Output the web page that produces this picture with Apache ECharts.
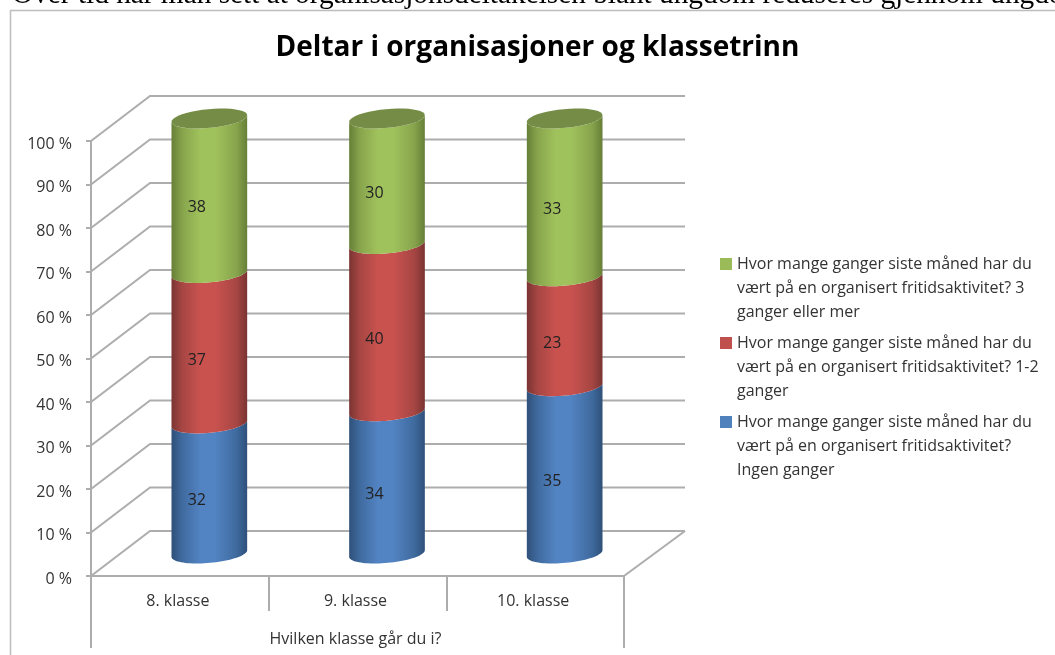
<!DOCTYPE html>
<html>
<head>
<meta charset="utf-8">
<style>html,body{margin:0;padding:0;background:#fff;overflow:hidden}#c{width:1055px;height:655px}</style>
<script src="https://cdn.jsdelivr.net/npm/echarts@6/dist/echarts.min.js"></script>
</head>
<body>
<div id="c"></div>
<script>
const categories = ['8. klasse', '9. klasse', '10. klasse'];
const ingenGanger = [32, 34, 35];
const enToGanger = [37, 40, 23];
const treEllerMer = [38, 30, 33];
const yTicks = [0, 10, 20, 30, 40, 50, 60, 70, 80, 90, 100];
const nameIngen = 'Hvor mange ganger siste måned har du\nvært på en organisert fritidsaktivitet?\nIngen ganger';
const nameEnTo = 'Hvor mange ganger siste måned har du\nvært på en organisert fritidsaktivitet? 1-2\nganger';
const nameTre = 'Hvor mange ganger siste måned har du\nvært på en organisert fritidsaktivitet? 3\nganger eller mer';

const DEPTH_X = 59, DEPTH_Y = -45;
const GREY = '#adadad';
const FONT = '"Open Sans", sans-serif';

const totals = categories.map((_, i) => ingenGanger[i] + enToGanger[i] + treEllerMer[i]);
function bands(values, below) {
  return values.map((v, i) => {
    const start = below.reduce((s, arr) => s + arr[i], 0) / totals[i] * 100;
    return [i, start, start + v / totals[i] * 100, v];
  });
}

const A = 38, B = 9.4, THETA = 5.3 * Math.PI / 180;
function ellipsePoint(cx, cy, t) {
  const c = Math.cos(t) * A, s = Math.sin(t) * B;
  return [cx + c * Math.cos(THETA) + s * Math.sin(THETA),
          cy - c * Math.sin(THETA) + s * Math.cos(THETA)];
}
function arc(cx, cy, from, to) {
  const pts = [];
  for (let k = 0; k <= 40; k++) pts.push(ellipsePoint(cx, cy, from + (to - from) * k / 40));
  return pts;
}
function shade(edgeL, mid, bright, edgeR) {
  return { type: 'linear', x: 0, y: 0, x2: 1, y2: 0, colorStops: [
    { offset: 0, color: edgeL }, { offset: 0.14, color: mid },
    { offset: 0.38, color: bright }, { offset: 0.58, color: bright },
    { offset: 0.86, color: mid }, { offset: 1, color: edgeR } ] };
}
function cylinder(fill, cap) {
  return function (params, api) {
    const lo = api.coord([api.value(0), api.value(1)]);
    const hi = api.coord([api.value(0), api.value(2)]);
    const cx = lo[0] + DEPTH_X / 2, y0 = lo[1] + DEPTH_Y / 2, y1 = hi[1] + DEPTH_Y / 2;
    const points = arc(cx, y0, Math.PI, 0).concat(arc(cx, y1, 0, Math.PI));
    const children = [{ type: 'polygon', shape: { points }, style: { fill } }];
    if (cap) children.push({ type: 'polygon', shape: { points: arc(cx, y1, 0, 2 * Math.PI) },
      style: { fill: cap } });
    children.push({ type: 'text', style: { text: String(api.value(3)), x: cx - 12.5, y: (y0 + y1) / 2 + 12,
      align: 'center', verticalAlign: 'middle', fill: '#222', font: '16px ' + FONT } });
    return { type: 'group', children };
  };
}
function wallLine(params, api) {
  const p = api.coord([0, api.value(0)]);
  const g = params.coordSys;
  return { type: 'polyline', shape: { points: [[g.x, p[1]], [g.x + DEPTH_X, p[1] + DEPTH_Y],
    [g.x + g.width + DEPTH_X + 2, p[1] + DEPTH_Y]] }, style: { stroke: GREY, lineWidth: 2, fill: null } };
}
function floorLine(params, api) {
  const p = api.coord([0, 0]);
  const g = params.coordSys;
  const x2 = g.x + g.width;
  return { type: 'group', children: [
    { type: 'polyline', shape: { points: [[x2, p[1]], [x2 + DEPTH_X + 2, p[1] + DEPTH_Y]] }, style: { stroke: GREY, lineWidth: 2, fill: null } },
    { type: 'line', shape: { x1: g.x, y1: p[1], x2: g.x, y2: p[1] + 72 }, style: { stroke: GREY, lineWidth: 2 } },
    { type: 'line', shape: { x1: x2, y1: p[1], x2: x2, y2: p[1] + 72 }, style: { stroke: GREY, lineWidth: 2 } }
  ] };
}

const chart = echarts.init(document.getElementById('c'));
chart.setOption({
  backgroundColor: '#fff',
  animation: false,
  title: { text: 'Deltar i organisasjoner og klassetrinn', left: 532.5, textAlign: 'center', top: 29,
    textStyle: { fontFamily: FONT, fontWeight: 'bold', fontSize: 28, color: '#000' } },
  legend: { orient: 'vertical', left: 720, top: 204, padding: 0, itemWidth: 12, itemHeight: 12, itemGap: -41, icon: 'rect',
    selectedMode: false, data: [nameTre, nameEnTo, nameIngen], formatter: n => '\n\n' + n,
    textStyle: { fontFamily: FONT, fontSize: 16, color: '#333', lineHeight: 24 } },
  grid: { left: 91, right: 431, top: 141, bottom: 79 },
  xAxis: { type: 'category', data: categories, name: 'Hvilken klasse går du i?', nameLocation: 'middle', nameGap: 55,
    nameTextStyle: { fontFamily: FONT, fontSize: 16, color: '#333', padding: [0, 4, 0, 0] },
    axisLine: { lineStyle: { color: GREY, width: 2 } },
    axisTick: { show: true, alignWithLabel: false, length: 35, lineStyle: { color: GREY, width: 2 } },
    axisLabel: { margin: 17, fontFamily: FONT, fontSize: 16, color: '#333', padding: [0, 4, 0, 0] } },
  yAxis: { type: 'value', min: 0, max: 100, interval: 10,
    axisLine: { show: true, lineStyle: { color: GREY, width: 2 } },
    axisTick: { show: true, length: 5, lineStyle: { color: GREY, width: 2 } },
    splitLine: { show: false },
    axisLabel: { margin: 19, formatter: v => '{a|' + v + ' %}',
      rich: { a: { fontFamily: FONT, fontSize: 16, color: '#333', lineHeight: 16, padding: [6, 0, 0, 0] } } } },
  series: [
    { type: 'custom', z: 1, silent: true, data: yTicks.map(v => [v]), renderItem: wallLine, encode: { y: 0 }, tooltip: { show: false } },
    { type: 'custom', z: 1, silent: true, data: [[0]], renderItem: floorLine, encode: { y: 0 } },
    { name: nameIngen, type: 'custom', z: 3, itemStyle: { color: '#4f81bd' }, encode: { x: 0, y: [1, 2] },
      data: bands(ingenGanger, []), renderItem: cylinder(shade('#2f5079', '#3f6a9e', '#5283c2', '#2f5079')) },
    { name: nameEnTo, type: 'custom', z: 4, itemStyle: { color: '#c0504d' }, encode: { x: 0, y: [1, 2] },
      data: bands(enToGanger, [ingenGanger]), renderItem: cylinder(shade('#7a3432', '#a64643', '#c9524f', '#7a3432')) },
    { name: nameTre, type: 'custom', z: 5, itemStyle: { color: '#9bbb59' }, encode: { x: 0, y: [1, 2] },
      data: bands(treEllerMer, [ingenGanger, enToGanger]),
      renderItem: cylinder(shade('#667f37', '#87a44c', '#a0c25c', '#667f37'), '#748c45') }
  ],
  graphic: [
    { type: 'text', z: 20, silent: true, style: { text: 'Over tid har man sett at organisasjonsdeltakelsen blant ungdom reduseres gjennom ungdomsskolen', x: 12, y: 10, verticalAlign: 'bottom', font: '29.3px "Liberation Serif", serif', fill: '#000' } },
    { type: 'line', z: 20, silent: true, shape: { x1: 10, y1: 10.5, x2: 1055, y2: 10.5 }, style: { stroke: '#bdbdbd', lineWidth: 1.5 } },
    { type: 'line', z: 20, silent: true, shape: { x1: 10.5, y1: 10, x2: 10.5, y2: 655 }, style: { stroke: '#bdbdbd', lineWidth: 1.5 } }
  ]
});
</script>
</body>
</html>
